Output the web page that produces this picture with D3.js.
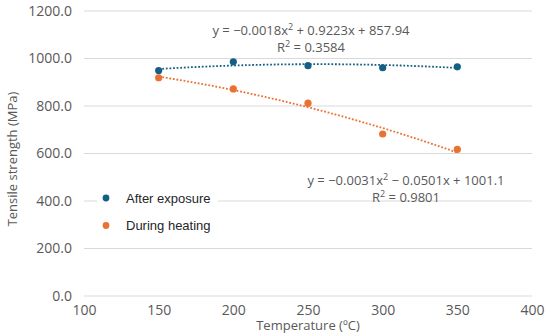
<!DOCTYPE html>
<html>
<head>
<meta charset="utf-8">
<script src="https://cdn.jsdelivr.net/npm/d3@7"></script>
<style>
  body { margin: 0; background: #fff; }
  text { font-family: "Open Sans", sans-serif; fill: #595959; }
</style>
</head>
<body>
<div id="chart"></div>
<script>
// data
const temps = [150, 200, 250, 300, 350];
const afterExposure = [949, 986, 970, 961, 965];
const duringHeating = [919, 872, 812, 682, 617];
// trendline coefficients shown on the chart [a, b, c] for a*x^2 + b*x + c
const fitAfter = [-0.0018, 0.9223, 857.94];
const fitDuring = [-0.0031, -0.0501, 1001.1];
const xTicks = [100, 150, 200, 250, 300, 350, 400];
const yTicks = [0, 200, 400, 600, 800, 1000, 1200];

const W = 550, H = 336;
const margin = {top: 11, right: 18, bottom: 40, left: 84};

const svg = d3.select("#chart").append("svg")
    .attr("width", W).attr("height", H);

const x = d3.scaleLinear().domain([100, 400]).range([margin.left, W - margin.right]);
const y = d3.scaleLinear().domain([0, 1200]).range([H - margin.bottom, margin.top]);

// gridlines
svg.append("g")
    .selectAll("line")
    .data(yTicks)
    .join("line")
    .attr("x1", x(100)).attr("x2", x(400))
    .attr("y1", d => y(d)).attr("y2", d => y(d))
    .attr("stroke", "#d9d9d9").attr("stroke-width", 1);

// y axis labels
const yAxis = svg.append("g")
    .attr("transform", `translate(${x(100) - 12},0)`)
    .call(d3.axisLeft(y).tickValues(yTicks).tickFormat(d3.format(".1f")).tickSize(0).tickPadding(0));
yAxis.select(".domain").remove();
yAxis.selectAll("text").style("font-size", "14px").attr("fill", "#595959").attr("font-family", "Open Sans");

// x axis labels
const xAxis = svg.append("g")
    .attr("transform", `translate(0,${y(0) + 9})`)
    .call(d3.axisBottom(x).tickValues(xTicks).tickSize(0).tickPadding(0));
xAxis.select(".domain").remove();
xAxis.selectAll("text").style("font-size", "14px").attr("fill", "#595959").attr("font-family", "Open Sans");

// axis titles
svg.append("text")
    .attr("x", (x(100) + x(400)) / 2).attr("y", 330)
    .attr("text-anchor", "middle")
    .style("font-size", "13px")
    .text("Temperature (ºC)");

svg.append("text")
    .attr("transform", `translate(17,159) rotate(-90)`)
    .attr("text-anchor", "middle")
    .style("font-size", "13px")
    .text("Tensile strength (MPa)");

// trendlines
const poly = c => t => c[0] * t * t + c[1] * t + c[2];
const line = d3.line().x(d => x(d[0])).y(d => y(d[1]));
const series = [
  {values: afterExposure, fit: fitAfter, color: "#156082"},
  {values: duringHeating, fit: fitDuring, color: "#E97132"}
];

series.forEach(s => {
  const f = poly(s.fit);
  const pts = d3.range(temps[0], temps[temps.length - 1] + 0.1, 2).map(t => [t, f(t)]);
  svg.append("path")
      .attr("d", line(pts))
      .attr("fill", "none")
      .attr("stroke", s.color)
      .attr("stroke-width", 1.8)
      .attr("stroke-dasharray", "1.8,1.8");
});

series.forEach(s => {
  svg.append("g")
      .selectAll("circle")
      .data(temps)
      .join("circle")
      .attr("cx", d => x(d))
      .attr("cy", (d, i) => y(s.values[i]))
      .attr("r", 3.6)
      .attr("fill", s.color);
});

// equations
function equation(cx, cy, left, right, r2) {
  const t = svg.append("text")
      .attr("x", cx).attr("y", cy)
      .attr("text-anchor", "middle")
      .style("font-size", "13px");
  t.append("tspan").text(left);
  t.append("tspan").attr("dy", -5).style("font-size", "9px").text("2");
  t.append("tspan").attr("dy", 5).text(right);
  const r = svg.append("text")
      .attr("x", cx).attr("y", cy + 17)
      .attr("text-anchor", "middle")
      .style("font-size", "13px");
  r.append("tspan").text("R");
  r.append("tspan").attr("dy", -5).style("font-size", "9px").text("2");
  r.append("tspan").attr("dy", 5).text(" = " + r2);
}

equation(311, 35, "y = −0.0018x", " + 0.9223x + 857.94", "0.3584");
equation(406, 185, "y = −0.0031x", " − 0.0501x + 1001.1", "0.9801");

// legend
const legend = svg.append("g");
legend.append("rect")
    .attr("x", 97).attr("y", 186).attr("width", 121).attr("height", 50)
    .attr("fill", "#fff");
const legendItems = [
  {name: "After exposure", color: "#156082"},
  {name: "During heating", color: "#E97132"}
];
legendItems.forEach((d, i) => {
  legend.append("circle")
      .attr("cx", 106).attr("cy", 198 + i * 27.5)
      .attr("r", 3.4).attr("fill", d.color);
  legend.append("text")
      .attr("x", 126).attr("y", 202.5 + i * 27.5)
      .style("font-family", "Liberation Sans, Arial, sans-serif")
      .style("font-size", "13px")
      .style("fill", "#262626")
      .text(d.name);
});
</script>
</body>
</html>
